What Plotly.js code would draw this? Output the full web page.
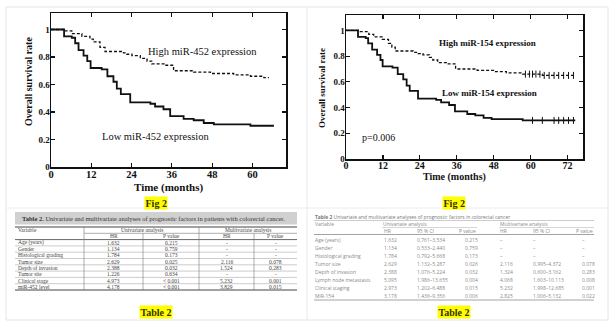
<!DOCTYPE html>
<html><head><meta charset="utf-8">
<script src="https://cdn.plot.ly/plotly-3.0.1.min.js"></script>
<style>html,body{margin:0;padding:0;background:#fff;}#chart{width:613px;height:325px;}</style>
</head><body><div id="chart"></div>
<script>
// ---- Fig 2 (left): miR-452 Kaplan-Meier ----
const highT452 = [0, 3.7, 6.2, 9.2, 11.6, 12.6, 14.6, 16.1, 21.6, 22.6, 24.1, 26.6, 28.6, 30.0, 34.0, 36.5, 42.5, 47.5, 54.4, 59.4, 63.4, 64.9];
const highS452 = [1, 0.99, 0.97, 0.95, 0.93, 0.91, 0.87, 0.84, 0.83, 0.82, 0.81, 0.79, 0.77, 0.75, 0.74, 0.70, 0.69, 0.68, 0.67, 0.66, 0.65, 0.65];
const lowT452 = [0, 3.9, 6.2, 7.2, 8.2, 9.7, 10.8, 11.8, 15.1, 16.8, 18.6, 19.6, 20.8, 23.6, 29.6, 31.0, 33.5, 35.5, 39.5, 42.5, 45.5, 48.5, 59.4, 66.4];
const lowS452 = [1, 0.95, 0.94, 0.90, 0.85, 0.81, 0.77, 0.72, 0.71, 0.66, 0.62, 0.57, 0.53, 0.47, 0.46, 0.44, 0.42, 0.37, 0.35, 0.34, 0.32, 0.31, 0.30, 0.30];

// ---- Fig 2 (right): miR-154 Kaplan-Meier ----
const highT154 = [0, 4.3, 7.4, 9.0, 11.7, 13.8, 14.9, 16.0, 21.8, 23.4, 25.0, 27.1, 28.2, 29.8, 33.0, 35.6, 42.6, 47.9, 52.1, 57.4, 63.8, 74.5];
const highS154 = [1, 0.99, 0.97, 0.95, 0.93, 0.90, 0.87, 0.84, 0.83, 0.82, 0.81, 0.79, 0.77, 0.75, 0.74, 0.70, 0.69, 0.68, 0.67, 0.66, 0.65, 0.65];
const lowT154 = [0, 3.9, 6.4, 7.2, 8.5, 10.1, 11.2, 11.9, 15.1, 16.8, 18.6, 19.7, 20.7, 23.4, 29.3, 30.9, 33.5, 35.4, 39.4, 42.0, 44.7, 47.3, 57.4, 74.5];
const lowS154 = [1, 0.95, 0.94, 0.90, 0.85, 0.81, 0.77, 0.72, 0.71, 0.66, 0.62, 0.57, 0.53, 0.47, 0.46, 0.44, 0.42, 0.37, 0.35, 0.34, 0.32, 0.31, 0.30, 0.30];
const censorHighT154 = [58.3, 59.6, 60.6, 61.7, 63.0, 64.4, 66.0, 67.6, 69.1, 70.7, 72.3, 73.9];
const censorHighS154 = [0.66, 0.66, 0.66, 0.66, 0.66, 0.65, 0.65, 0.65, 0.65, 0.65, 0.65, 0.65];
const censorLowT154 = [60.6, 63.8, 67.6, 69.1, 70.7, 72.3, 73.9];
const censorLowS154 = [0.30, 0.30, 0.30, 0.30, 0.30, 0.30, 0.30];

const xTicksLeft = [0, 12, 24, 36, 48, 60];
const xTicksRight = [0, 12, 24, 36, 48, 60, 72];
const yTicks = [0, 0.2, 0.4, 0.6, 0.8, 1];
const yTickText = ["0", "0.2", "0.4", "0.6", "0.8", "1"];

// ---- Table 2 (left) ----
const leftVars = ["Age (years)", "Gender", "Histological grading", "Tumor size", "Depth of invasion", "Tumor site", "Clinical stage", "miR-452 level"];
const leftUniHR = ["1.632", "1.134", "1.784", "2.629", "2.388", "1.226", "4.973", "4.178"];
const leftUniP = ["0.215", "0.759", "0.173", "0.025", "0.032", "0.634", "< 0.001", "< 0.001"];
const leftMultHR = ["-", "-", "-", "2.116", "1.524", "-", "5.232", "3.829"];
const leftMultP = ["-", "-", "-", "0.078", "0.283", "-", "0.001", "0.015"];

// ---- Table 2 (right) ----
const rightVars = ["Age (years)", "Gender", "Histological grading", "Tumor size", "Depth of invasion", "Lymph node metastasis", "Clinical staging", "MiR-154"];
const rightUniHR = ["1.632", "1.134", "1.784", "2.629", "2.388", "5.095", "2.973", "3.178"];
const rightUniCI = ["0.761–3.534", "0.533–2.440", "0.792–5.668", "1.132–5.287", "1.076–5.224", "1.986–13.655", "1.202–6.488", "1.436–9.356"];
const rightUniP = ["0.215", "0.759", "0.173", "0.026", "0.032", "0.004", "0.015", "0.006"];
const rightMultHR = ["–", "–", "–", "2.116", "1.324", "4.068", "5.232", "2.825"];
const rightMultCI = ["–", "–", "–", "0.995–4.372", "0.600–3.162", "1.603–10.113", "1.998–12.685", "1.006–5.132"];
const rightMultP = ["–", "–", "–", "0.078", "0.283", "0.008", "0.001", "0.022"];

// ---------------- drawing ----------------
const W = 613, H = 325;
const px = v => v / W;
const py = v => 1 - v / H;
const SERIF = "Liberation Serif, Times New Roman, serif";
const SANS = "Open Sans, Noto Sans, sans-serif";

const traces = [
  {x: highT452, y: highS452, xaxis: 'x', yaxis: 'y', mode: 'lines', line: {shape: 'hv', color: '#111', width: 1.3, dash: '3px,2px'}},
  {x: lowT452, y: lowS452, xaxis: 'x', yaxis: 'y', mode: 'lines', line: {shape: 'hv', color: '#111', width: 1.8}},
  {x: highT154, y: highS154, xaxis: 'x2', yaxis: 'y2', mode: 'lines', line: {shape: 'hv', color: '#111', width: 1.3, dash: '3px,2px'}},
  {x: lowT154, y: lowS154, xaxis: 'x2', yaxis: 'y2', mode: 'lines', line: {shape: 'hv', color: '#111', width: 1.8}},
  {x: censorHighT154, y: censorHighS154, xaxis: 'x2', yaxis: 'y2', mode: 'markers', marker: {symbol: 'line-ns', size: 5, line: {color: '#111', width: 1}}},
  {x: censorLowT154, y: censorLowS154, xaxis: 'x2', yaxis: 'y2', mode: 'markers', marker: {symbol: 'line-ns', size: 5, line: {color: '#111', width: 1}}}
];

function axisBase(extra) {
  return Object.assign({
    showgrid: false, zeroline: false, showline: true, mirror: 'ticks',
    linecolor: '#111', linewidth: 1.5, ticks: 'inside', ticklen: 4, tickwidth: 1.2, tickcolor: '#111',
    tickfont: {family: SERIF, size: 10, color: '#111', weight: 'bold'}, fixedrange: true
  }, extra);
}

const layout = {
  width: W, height: H, margin: {l: 0, r: 0, t: 0, b: 0},
  paper_bgcolor: '#fff', plot_bgcolor: '#fff', showlegend: false,
  xaxis: axisBase({domain: [px(51), px(286)], range: [0, 70], tickvals: xTicksLeft, anchor: 'y', ticklabelstandoff: -3, tickfont: {family: SERIF, size: 10.5, color: '#111', weight: 'bold'}}),
  yaxis: axisBase({domain: [py(167), py(13)], range: [0, 1.12], tickvals: yTicks, ticktext: yTickText, anchor: 'x', ticklabelstandoff: -2, tickfont: {family: SERIF, size: 9, color: '#111', weight: 'bold'}}),
  xaxis2: axisBase({domain: [px(346), px(583)], range: [0, 77], tickvals: xTicksRight, anchor: 'y2', ticklabelstandoff: -4}),
  yaxis2: axisBase({domain: [py(159), py(15)], range: [0, 1.12], tickvals: yTicks, ticktext: yTickText, anchor: 'x2', ticklabelstandoff: -2, tickfont: {family: SERIF, size: 9, color: '#111', weight: 'bold'}}),
  shapes: [], annotations: []
};

const S = layout.shapes, A = layout.annotations;
function hline(x0, x1, y, color, w) { S.push({type: 'line', xref: 'paper', yref: 'paper', x0: px(x0), x1: px(x1), y0: py(y), y1: py(y), line: {color: color, width: w}}); }
function vline(x, y0, y1, color, w) { S.push({type: 'line', xref: 'paper', yref: 'paper', x0: px(x), x1: px(x), y0: py(y0), y1: py(y1), line: {color: color, width: w}}); }
function txt(x, y, t, font, anchor, extra) {
  A.push(Object.assign({xref: 'paper', yref: 'paper', x: px(x), y: py(y), text: t, showarrow: false, font: font, xanchor: anchor || 'center', yanchor: 'middle', borderpad: 0}, extra || {}));
}

// frame
S.push({type: 'rect', xref: 'paper', yref: 'paper', x0: px(6), x1: px(608), y0: py(320), y1: py(7), line: {color: '#e4e4e4', width: 1}, layer: 'below'});
vline(307, 7, 320, '#e8e8e8', 1);
hline(6, 608, 208, '#ececec', 1);

// chart texts
const bold = (s, c) => ({family: SERIF, size: s, color: c || '#111', weight: 'bold'});
const reg = (s, c) => ({family: SERIF, size: s, color: c || '#111'});
txt(28, 82, 'Overall survival rate', bold(10), 'center', {textangle: -90});
txt(168, 187, 'Time (months)', bold(11));
A.push({xref: 'x', yref: 'y', x: 45, y: 0.84, text: 'High miR-452 expression', showarrow: false, font: reg(10.5)});
A.push({xref: 'x', yref: 'y', x: 31, y: 0.225, text: 'Low miR-452 expression', showarrow: false, font: reg(10.5)});

txt(322, 88, 'Overall survival rate', bold(9), 'center', {textangle: -90});
txt(454, 177, 'Time (months)', bold(10));
A.push({xref: 'x2', yref: 'y2', x: 46, y: 0.906, text: 'High miR-154 expression', showarrow: false, font: bold(9)});
A.push({xref: 'x2', yref: 'y2', x: 46.6, y: 0.516, text: 'Low miR-154 expression', showarrow: false, font: bold(9)});
A.push({xref: 'x2', yref: 'y2', x: 10.6, y: 0.164, text: 'p=0.006', showarrow: false, font: reg(10)});

// yellow labels
const yl = {bgcolor: '#ffff00', borderpad: 0.5};
txt(156, 203, 'Fig 2', bold(10, '#3a3000'), 'center', yl);
txt(454, 203, 'Fig 2', bold(10, '#3a3000'), 'center', yl);
txt(155.5, 311.5, 'Table 2', bold(10, '#3a3000'), 'center', yl);
txt(454, 311.5, 'Table 2', bold(10, '#3a3000'), 'center', yl);

// ---- left table ----
S.push({type: 'rect', xref: 'paper', yref: 'paper', x0: px(15), x1: px(297), y0: py(224.5), y1: py(212), fillcolor: '#d0d0d0', line: {width: 0}});
txt(21, 218.3, '<b>Table 2.</b> Univariate and multivariate analyses of prognostic factors in patients with colorectal cancer.', reg(6.5, '#333'), 'left');
const lt = 227, rh = 6.3, nRows = leftVars.length;
const lb = lt + rh * (nRows + 2);
hline(15, 297, lt, '#444', 1);
hline(84, 297, lt + rh, '#777', 0.6);
hline(15, 297, lt + 2 * rh, '#555', 0.9);
for (let k = 3; k < nRows + 2; k++) hline(15, 297, lt + k * rh, '#999', 0.5);
hline(15, 297, lb, '#444', 1);
vline(84, lt, lb, '#777', 0.6);
vline(199, lt, lb, '#777', 0.6);
vline(143, lt + rh, lb, '#777', 0.6);
vline(254, lt + rh, lb, '#777', 0.6);
const tf = reg(5.5, '#444');
txt(17, lt + rh * 0.5, 'Variable', tf, 'left');
txt(141.5, lt + rh * 0.5, 'Univariate analysis', tf);
txt(248, lt + rh * 0.5, 'Multivariate analysis', tf);
txt(113.5, lt + rh * 1.5, 'HR', tf); txt(171, lt + rh * 1.5, 'P value', tf);
txt(226.5, lt + rh * 1.5, 'HR', tf); txt(275.5, lt + rh * 1.5, 'P value', tf);
for (let i = 0; i < nRows; i++) {
  const yy = lt + rh * (i + 2.5);
  txt(17, yy, leftVars[i], tf, 'left');
  txt(113.5, yy, leftUniHR[i], tf);
  txt(171, yy, leftUniP[i], tf);
  txt(226.5, yy, leftMultHR[i], tf);
  txt(275.5, yy, leftMultP[i], tf);
}

// ---- right table ----
const sf = {family: SANS, size: 5, color: '#8a8a8a'};
txt(314, 216.5, '<b>Table 2</b> Univariate and multivariate analyses of prognostic factors in colorectal cancer', {family: SANS, size: 4.9, color: '#777'}, 'left');
hline(314, 594, 220.5, '#aaa', 0.6);
txt(314, 224, 'Variable', sf, 'left');
txt(382, 224, 'Univariate analysis', sf, 'left');
txt(499, 224, 'Multivariate analysis', sf, 'left');
hline(382, 477, 227.5, '#bbb', 0.6);
hline(499, 594, 227.5, '#bbb', 0.6);
txt(383, 231, 'HR', sf, 'left'); txt(416, 231, '95 % CI', sf, 'left'); txt(477, 231, 'P value', sf, 'right');
txt(499, 231, 'HR', sf, 'left'); txt(532, 231, '95 % CI', sf, 'left'); txt(594, 231, 'P value', sf, 'right');
hline(314, 594, 234.5, '#999', 0.9);
for (let i = 0; i < rightVars.length; i++) {
  const yy = 239.5 + i * 8;
  txt(314, yy, rightVars[i], sf, 'left');
  txt(383, yy, rightUniHR[i], sf, 'left');
  txt(416, yy, rightUniCI[i], sf, 'left');
  txt(464, yy, rightUniP[i], sf, 'left');
  txt(499, yy, rightMultHR[i], sf, 'left');
  txt(532, yy, rightMultCI[i], sf, 'left');
  txt(581, yy, rightMultP[i], sf, 'left');
}
hline(314, 594, 300, '#999', 0.9);

Plotly.newPlot('chart', traces, layout, {displayModeBar: false, staticPlot: true});
</script>
</body></html>
